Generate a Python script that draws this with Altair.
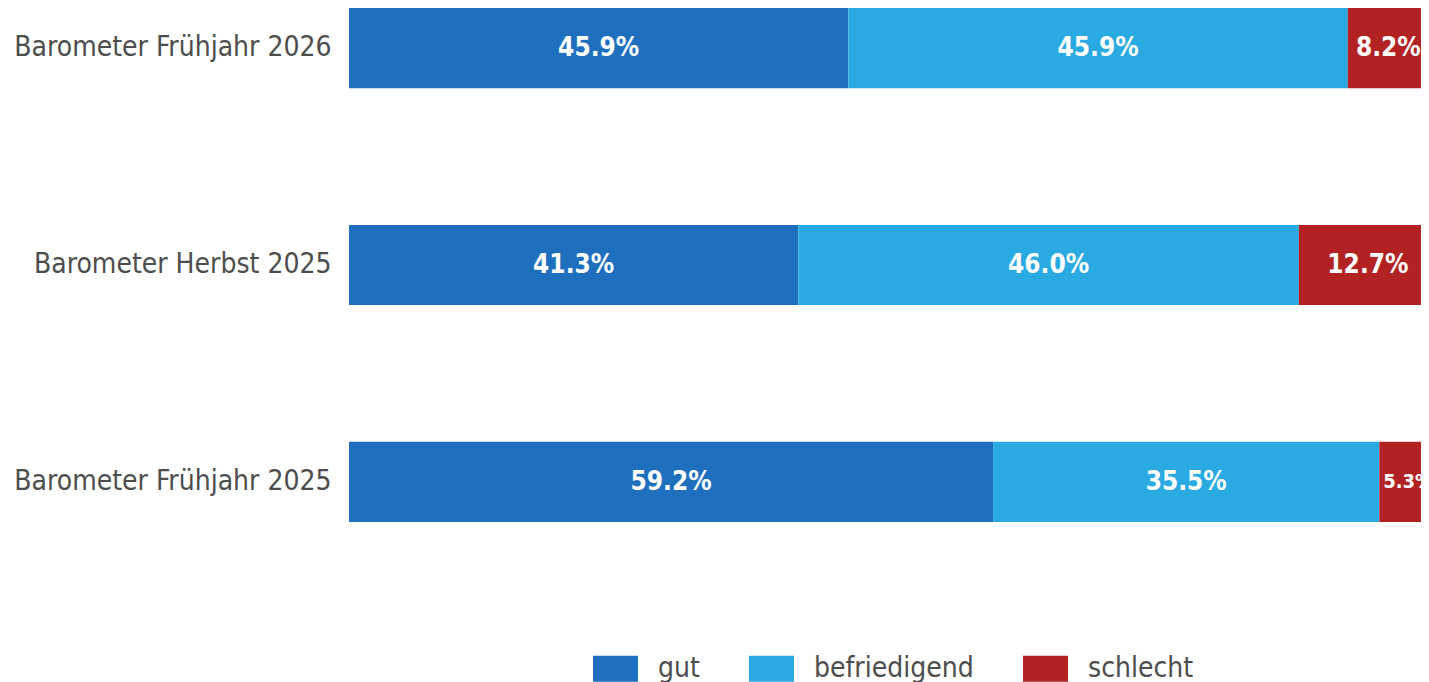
import altair as alt
import pandas as pd

surveys = ["Barometer Frühjahr 2026", "Barometer Herbst 2025", "Barometer Frühjahr 2025"]
categories = ["gut", "befriedigend", "schlecht"]
colors = ["#1f6fbf", "#29aae2", "#b22222"]
gut = [45.9, 41.3, 59.2]
befriedigend = [45.9, 46.0, 35.5]
schlecht = [8.2, 12.7, 5.3]

rows = []
for i, s in enumerate(surveys):
    for j, (c, v) in enumerate(zip(categories, [gut[i], befriedigend[i], schlecht[i]])):
        rows.append({"survey": s, "cat": c, "ord": j, "value": v,
                     "label": f"{v:.1f}%", "fs": 26 if v >= 7 else 20})
df = pd.DataFrame(rows)

FONT = "DejaVu Sans Condensed"
PLOT_W = 1072
XMAX = 100 * PLOT_W / 1088  # the reference is cropped before the bars end

base = alt.Chart(df).transform_stack(
    stack="value", groupby=["survey"], as_=["x0", "x1"],
    sort=[alt.SortField("ord", order="ascending")]
).transform_calculate(
    mid=f"datum.value >= 7 ? min((datum.x0 + datum.x1) / 2, {XMAX - 3.0}) : (datum.x0 + datum.x1) / 2"
)

yenc = alt.Y("survey:N", sort=surveys, title=None,
             scale=alt.Scale(paddingInner=0.63, paddingOuter=0),
             axis=alt.Axis(ticks=False, domain=False, labelFontSize=28, labelLimit=0,
                           labelFont=FONT, labelColor="#4d4d4d", labelPadding=18))

bars = base.mark_bar(clip=True).encode(
    x=alt.X("x0:Q", scale=alt.Scale(domain=[0, XMAX]), axis=None),
    x2="x1:Q",
    y=yenc,
    color=alt.Color("cat:N", sort=categories,
                    scale=alt.Scale(domain=categories, range=colors),
                    legend=alt.Legend(title=None, orient="none", direction="horizontal",
                                      legendX=244, legendY=638, padding=0,
                                      labelFontSize=28, labelFont=FONT, labelColor="#4d4d4d",
                                      labelLimit=0,
                                      symbolType="M-1,-0.58H1V0.58H-1Z", symbolSize=2025,
                                      symbolOpacity=1, labelOffset=20, columnPadding=49,
                                      symbolStrokeWidth=0)),
)

texts = base.mark_text(color="white", fontWeight="bold", font=FONT, clip=True).encode(
    x=alt.X("mid:Q", scale=alt.Scale(domain=[0, XMAX]), axis=None),
    y=alt.Y("survey:N", sort=surveys),
    text="label:N",
    size=alt.Size("fs:Q", scale=None, legend=None),
)

chart = alt.layer(bars, texts).properties(
    width=PLOT_W, height=514,
    autosize=alt.AutoSizeParams(type="none"),
    padding={"top": 0, "left": 341, "right": 0, "bottom": 160}
).configure_view(stroke=None)

chart.save("out.html", embed_options={"renderer": "svg", "actions": False})
